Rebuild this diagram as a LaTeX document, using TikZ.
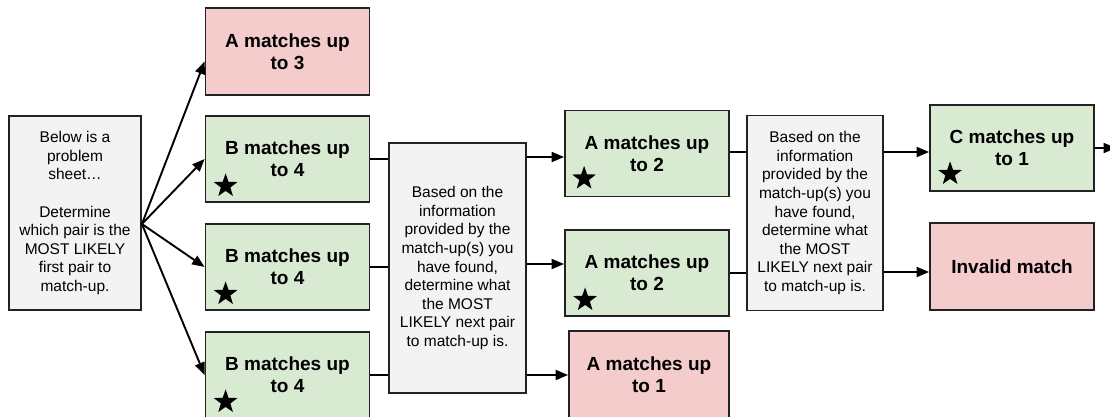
\documentclass[tikz,border=0pt]{standalone}
\usepackage{fontspec}
\setmainfont{Liberation Sans}
\usetikzlibrary{arrows.meta,shapes.geometric}
\definecolor{boxline}{HTML}{222222}
\definecolor{pinkfill}{HTML}{F4CCCC}
\definecolor{greenfill}{HTML}{D9EAD3}
\definecolor{grayfill}{HTML}{F3F3F3}
\tikzset{
  basebox/.style={draw=boxline, line width=1.8pt, inner sep=0pt, align=center},
  infobox/.style={basebox, fill=grayfill, font=\fontsize{15.5}{18.6}\selectfont},
  goodbox/.style={basebox, fill=greenfill, minimum width=164pt, minimum height=86pt, font=\bfseries\fontsize{19}{22}\selectfont},
  badbox/.style={basebox, fill=pinkfill, minimum width=164pt, minimum height=87pt, font=\bfseries\fontsize{19}{22}\selectfont},
  starmark/.style={star, star points=5, star point ratio=2.5, minimum size=25pt, inner sep=0pt, fill=black},
  link/.style={draw=black, line width=1.9pt},
  arr/.style={link, -{Triangle[length=12.5pt,width=10pt]}}
}
\begin{document}
\begin{tikzpicture}[x=1pt,y=-1pt]
\useasboundingbox (0,0) rectangle (1110,416);

% first column: the problem statement
\node[infobox, minimum width=132pt, minimum height=194pt] (start) at (75,213)
  {Below is a\\problem\\sheet…\\[18.6pt]Determine\\which pair is the\\MOST LIKELY\\first pair to\\match-up.};

% second column: candidate first pairs
\node[badbox]  (a3) at (287.5,51.5) {A matches up\\to 3};
\node[goodbox] (b1) at (287.5,159)  {B matches up\\to 4};
\node[goodbox] (b2) at (287.5,267)  {B matches up\\to 4};
\node[goodbox] (b3) at (287.5,375)  {B matches up\\to 4};

% third column: next step
\node[infobox, minimum width=137pt, minimum height=250pt] (step1) at (457.5,268)
  {Based on the\\information\\provided by the\\match-up(s) you\\have found,\\determine what\\the MOST\\LIKELY next pair\\to match-up is.};

% fourth column: second pairs
\node[goodbox] (a2) at (647,153.5) {A matches up\\to 2};
\node[goodbox] (a2b) at (647,273)  {A matches up\\to 2};
\node[badbox, minimum width=160pt, minimum height=88pt] (a1) at (649,375) {A matches up\\to 1};

% fifth column: next step
\node[infobox, minimum width=136pt, minimum height=195pt] (step2) at (815,213)
  {Based on the\\information\\provided by the\\match-up(s) you\\have found,\\determine what\\the MOST\\LIKELY next pair\\to match-up is.};

% sixth column: third pairs
\node[goodbox] (c1) at (1012,148) {C matches up\\to 1};
\node[badbox]  (inv) at (1012,266.5) {Invalid match};

% stars on the likely choices
\node[starmark] (s1) at ([xshift=21pt,yshift=17pt]b1.south west) {};
\node[starmark] (s2) at ([xshift=21pt,yshift=17pt]b2.south west) {};
\node[starmark] (s3) at ([xshift=21pt,yshift=17pt]b3.south west) {};
\node[starmark] (s4) at ([xshift=20pt,yshift=19pt]a2.south west) {};
\node[starmark] (s5) at ([xshift=21pt,yshift=17pt]a2b.south west) {};
\node[starmark] (s6) at ([xshift=21pt,yshift=18pt]c1.south west) {};

% fan-out from the problem statement
\coordinate (fan) at ([yshift=-11pt]start.east);
\draw[arr] (fan) -- ([yshift=-10pt]a3.west);
\draw[arr] (fan) -- (b1.west);
\draw[arr] (fan) -- (b2.west);
\draw[arr] (fan) -- (b3.west);

% into the first step box
\draw[link] (b1.east) -- (step1.west |- b1.east);
\draw[link] (b2.east) -- (step1.west |- b2.east);
\draw[link] (b3.east) -- (step1.west |- b3.east);

% out of the first step box
\draw[arr] ([yshift=2pt]step1.east |- b1.east) -- ([yshift=2pt]a2.west |- b1.east);
\draw[arr] ([yshift=3pt]step1.east |- b2.east) -- ([yshift=3pt]a2b.west |- b2.east);
\draw[arr] (step1.east |- b3.east) -- (a1.west |- b3.east);

% into the second step box
\draw[link] ([yshift=1.5pt]a2.east) -- ([yshift=1.5pt]step2.west |- a2.east);
\draw[link] (a2b.east) -- (step2.west |- a2b.east);

% out of the second step box
\draw[arr] ([yshift=1.5pt]step2.east |- a2.east) -- ([yshift=1.5pt]c1.west |- a2.east);
\draw[arr] ([yshift=1pt]step2.east |- a2b.east) -- ([yshift=1pt]inv.west |- a2b.east);

% continuation past the right edge
\coordinate (onward) at (1116,148);
\draw[arr] (c1.east) -- (onward);
\end{tikzpicture}
\end{document}
